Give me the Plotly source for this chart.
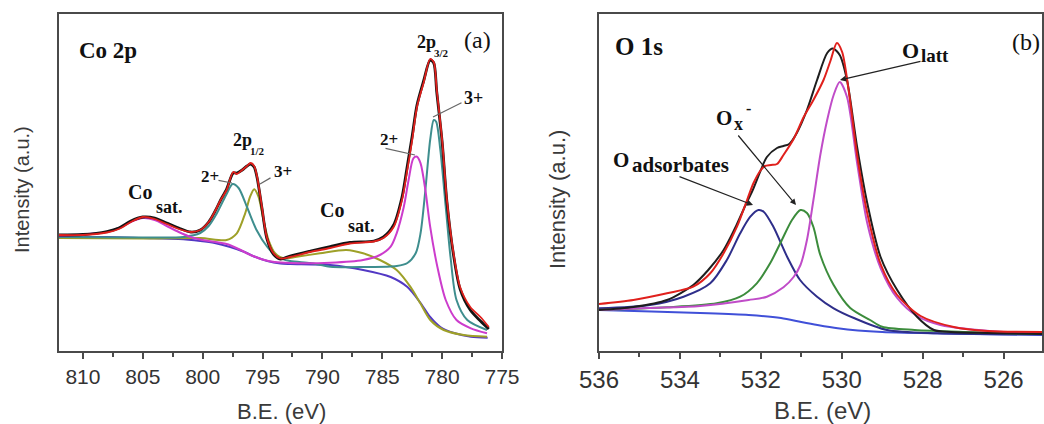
import plotly.graph_objects as go

# ---------------- Panel (a): Co 2p ----------------
a_exp_x = [812, 810, 808, 807, 806, 805, 804, 803, 802, 801, 800.2, 799.5, 799, 798.5, 798, 797.45, 797.15, 796.7, 796.3, 796.0, 795.7, 795.45, 795.05, 794.65, 794.1, 793.5, 792.7, 791.0, 789.35, 787.7, 785.7, 784.9, 784.05, 783.35, 782.95, 782.5, 782.1, 781.55, 781.0, 780.7, 780.45, 780.0, 779.6, 779.05, 778.5, 777.65, 776.8, 776.1]
a_exp_y = [116, 116.5, 119.5, 123, 130, 134, 133, 128, 123, 119, 121, 129, 139, 151, 162, 178, 178, 181, 185, 187, 184, 173, 143, 113, 97, 92, 95, 100, 104.5, 108.5, 110, 114, 126, 154, 182, 215, 246, 270, 291, 288, 259, 209, 149, 96, 62, 41, 30, 22]

a_fit_x = [812, 810, 808, 807, 806, 805, 804, 803, 802, 801, 800.2, 799.5, 799, 798.5, 798, 797.45, 797.15, 796.7, 796.3, 796.0, 795.7, 795.45, 795.05, 794.65, 794.1, 793.5, 792.7, 791.0, 789.35, 787.7, 785.7, 784.9, 784.05, 783.35, 782.95, 782.5, 782.1, 781.55, 781.0, 780.7, 780.45, 780.0, 779.6, 779.05, 778.5, 777.65, 776.8, 776.1]
a_fit_y = [116, 116, 118.5, 122, 129, 134, 132, 127, 122, 119, 121, 129, 139, 151, 161, 179, 177, 181, 185, 188, 185, 174, 144, 114, 98, 92.5, 94, 99, 103, 107.5, 109.5, 113, 124, 151, 178, 211, 244, 268, 292, 289, 261, 211, 151, 98, 64, 44, 34, 24]

a_bg_x = [812, 808, 805, 802, 800.2, 799, 797.7, 796.5, 795.8, 794.6, 793.5, 792.7, 789.35, 786.6, 784.3, 782.9, 781.8, 781.0, 780.15, 779.0, 777.6, 776.2]
a_bg_y = [114, 114, 113, 112, 110, 108, 104, 99, 95, 90, 87.5, 87, 86, 81, 74, 64, 48, 34, 24, 18, 14.3, 13.3]

a_teal_x = [812, 805, 801.6, 800.2, 799.5, 798.8, 798.0, 797.5, 797.0, 796.3, 795.5, 794.6, 793.8, 792.7, 791, 789.35, 786.5, 783.8, 782.9, 782.2, 781.8, 781.4, 781.0, 780.7, 780.5, 780.15, 779.7, 779.3, 778.8, 777.9, 776.25]
a_teal_y = [114, 113.5, 114, 118, 125, 138, 157, 167, 163, 144, 121, 104, 94, 90, 88, 84.3, 84, 85, 88, 98, 118, 161, 211, 231, 229.3, 201, 144, 94, 51, 31, 21]

a_mag_x = [812, 808, 807, 806, 805, 804, 803, 802, 801, 800, 798, 797, 796, 795, 794, 792.7, 789.35, 786.6, 785.2, 784.3, 783.8, 783.2, 782.8, 782.4, 782.1, 781.8, 781.4, 781.0, 780.4, 779.7, 778.8, 777.6, 776.25]
a_mag_y = [115, 119, 123, 129, 133, 131, 125, 119, 114, 111, 107, 102, 96, 91.5, 89, 88, 88.3, 91, 96, 104.3, 117.7, 144.3, 171, 192.7, 194.3, 187.7, 161, 124.3, 84.3, 51, 31, 22.7, 17.7]

a_olive_x = [812, 805, 800.2, 798, 797.15, 796.45, 796.04, 795.7, 795.34, 794.92, 794.5, 793.95, 793.25, 792.14, 790.2, 788, 786.6, 785.2, 783.8, 782.66, 781.82, 780.99, 779.87, 778.2, 776.25]
a_olive_y = [113, 112.5, 113, 111, 117.7, 137.7, 154.3, 161.7, 154.3, 131, 111, 97.7, 92.7, 94.3, 97.7, 101, 97.7, 91, 81, 64.3, 47.7, 31, 21, 16, 14.3]

a_ticks = [810, 805, 800, 795, 790, 785, 780, 775]

# ---------------- Panel (b): O 1s ----------------
b_exp_x = [536, 535.15, 534.32, 533.67, 533.3, 532.92, 532.6, 532.4, 532.2, 532.0, 531.85, 531.6, 531.44, 531.3, 531.11, 530.86, 530.61, 530.36, 530.22, 530.05, 529.87, 529.62, 529.37, 529.04, 528.63, 528.14, 527.72, 527.3, 526.4, 525.05]
b_exp_y = [41, 44, 51, 66, 81, 101, 126, 144, 161, 181, 194, 203, 205, 207, 218, 241, 271, 298, 302.5, 296, 271, 204, 148, 94, 61, 34.3, 21, 19, 18, 17]

b_fit_x = [536, 535.15, 534.32, 533.67, 533.25, 532.92, 532.59, 532.34, 532.18, 532.0, 531.9, 531.75, 531.6, 531.44, 531.19, 530.94, 530.7, 530.45, 530.28, 530.12, 529.99, 529.83, 529.62, 529.37, 529.04, 528.63, 528.05, 527.23, 526.4, 525.05]
b_fit_y = [47, 51, 57.7, 64.3, 77.7, 97.7, 124.3, 151, 168, 181, 185, 186, 187, 196, 212, 234, 251, 271, 290, 308, 299, 261, 196, 138, 87, 56, 35, 24, 20, 19]

b_ads_x = [536, 534.74, 533.91, 533.25, 532.84, 532.51, 532.26, 532.06, 531.93, 531.69, 531.35, 531.03, 530.61, 530.2, 529.7, 528.88, 527.64, 525.05]
b_ads_y = [42.7, 46, 54.3, 67.7, 91, 117.7, 134.3, 141, 139.3, 124.3, 94.3, 71, 54.3, 42.7, 33, 21, 17.7, 16.7]

b_ox_x = [536, 534.32, 533.09, 532.51, 532.1, 531.77, 531.48, 531.23, 531.02, 530.86, 530.7, 530.53, 530.2, 529.79, 529.3, 529.0, 528.2, 527.0, 525.05]
b_ox_y = [41, 43.7, 47.7, 54.3, 67.7, 87.7, 111, 131, 141, 138, 124, 96, 66, 43, 31, 24.3, 21, 19, 17]

b_latt_x = [536, 534.8, 533.5, 532.3, 531.85, 531.44, 531.19, 531.02, 530.86, 530.7, 530.53, 530.36, 530.2, 530.05, 529.87, 529.62, 529.37, 529.04, 528.63, 528.14, 527.56, 526.0, 525.05]
b_latt_y = [41, 43, 45, 51, 54.3, 63.7, 74, 86, 111, 151, 196, 231, 256, 269, 254, 188, 128, 83, 53, 35, 26, 19, 18]

b_bg_x = [536, 534.7, 533.5, 532.3, 531.5, 531.0, 530.6, 530.1, 529.6, 529.0, 527.5, 525.05]
b_bg_y = [41, 39.5, 38, 36, 33, 29, 26, 22.7, 20.5, 19, 17.5, 16]

b_ticks = [536, 534, 532, 530, 528, 526]

# ---------------- figure ----------------
W, H = 1044, 424
def PX(x):
    return x / W
def PY(y):
    return 1 - y / H

fig = go.Figure()

def add_line(x, y, color, width, xa, ya):
    fig.add_trace(go.Scatter(x=x, y=y, mode="lines", xaxis=xa, yaxis=ya,
                             line=dict(color=color, width=width, shape="spline", smoothing=0.8),
                             showlegend=False, hoverinfo="skip"))

# panel a
add_line(a_bg_x, a_bg_y, "#5238c4", 2, "x", "y")
add_line(a_olive_x, a_olive_y, "#9ea028", 2, "x", "y")
add_line(a_teal_x, a_teal_y, "#3e8e8e", 2, "x", "y")
add_line(a_mag_x, a_mag_y, "#cc3ccc", 2, "x", "y")
add_line(a_exp_x, a_exp_y, "#141414", 2.8, "x", "y")
add_line(a_fit_x, a_fit_y, "#e0201c", 1.8, "x", "y")

# panel b
add_line(b_bg_x, b_bg_y, "#4050d8", 2, "x2", "y2")
add_line(b_ads_x, b_ads_y, "#2e2e8a", 2, "x2", "y2")
add_line(b_ox_x, b_ox_y, "#3c8c3c", 2, "x2", "y2")
add_line(b_latt_x, b_latt_y, "#c04cc8", 2, "x2", "y2")
add_line(b_exp_x, b_exp_y, "#1e1e1e", 2, "x2", "y2")
add_line(b_fit_x, b_fit_y, "#e0201c", 2, "x2", "y2")

axis_common = dict(showline=True, linecolor="#4a4a4a", linewidth=2, mirror=True,
                   showgrid=False, zeroline=False, automargin=False)

fig.update_layout(
    template="none",
    width=W, height=H, margin=dict(l=0, r=0, t=0, b=0, pad=0, autoexpand=False),
    paper_bgcolor="white", plot_bgcolor="white", showlegend=False,
    xaxis=dict(domain=[PX(59), PX(502)], range=[812, 775], tickvals=a_ticks,
               ticks="outside", ticklen=6, tickwidth=1.5, tickcolor="#4a4a4a",
               minor=dict(dtick=2.5, ticks="outside", ticklen=3.5, tickwidth=1.5, tickcolor="#4a4a4a"),
               tickfont=dict(family="Liberation Sans, Arial, sans-serif", size=21, color="#333"),
               anchor="y", **axis_common),
    yaxis=dict(domain=[PY(351), PY(14)], range=[0, 337], showticklabels=False, ticks="",
               anchor="x", **axis_common),
    xaxis2=dict(domain=[PX(599), PX(1042)], range=[536, 525.05], tickvals=b_ticks,
                ticks="outside", ticklen=6, tickwidth=1.5, tickcolor="#4a4a4a",
                minor=dict(dtick=1, ticks="outside", ticklen=3.5, tickwidth=1.5, tickcolor="#4a4a4a"),
                tickfont=dict(family="Liberation Sans, Arial, sans-serif", size=24, color="#333"),
                anchor="y2", **axis_common),
    yaxis2=dict(domain=[PY(351), PY(14)], range=[0, 337], showticklabels=False, ticks="",
                anchor="x2", **axis_common),
)

SERIF = "Liberation Serif, Times New Roman, serif"
SANS = "Liberation Sans, Arial, sans-serif"

def text(x, y, s, size, bold=True, family=SERIF, color="#111", xanchor="center", angle=0):
    t = "<b>" + s + "</b>" if bold else s
    fig.add_annotation(x=PX(x), y=PY(y), xref="paper", yref="paper", text=t,
                       showarrow=False, xanchor=xanchor, yanchor="middle", textangle=angle,
                       font=dict(family=family, size=size, color=color))

def line(tx, ty, hx, hy, color, head):
    fig.add_annotation(x=PX(hx), y=PY(hy), xref="paper", yref="paper",
                       ax=tx - hx, ay=ty - hy, text="", showarrow=True,
                       arrowhead=2 if head else 0, arrowsize=1, arrowwidth=1.2,
                       arrowcolor=color)

# axis titles
text(22, 190, "Intensity (a.u.)", 20, bold=False, family=SANS, color="#3a3a3a", angle=-90)
text(281, 411, "B.E. (eV)", 22, bold=False, family=SANS, color="#3a3a3a")
text(557, 200, "Intensity (a.u.)", 22, bold=False, family=SANS, color="#3a3a3a", angle=-90)
text(822, 410, "B.E. (eV)", 24, bold=False, family=SANS, color="#3a3a3a")

# panel a labels
text(77, 50, "Co 2p", 23, xanchor="left")
text(477, 40, "(a)", 24, bold=False)
text(415, 42, "2p", 18, xanchor="left")
text(432, 53, "3/2", 11, xanchor="left")
text(473, 98, "3+", 18)
text(389, 139, "2+", 17)
text(231, 140, "2p", 18, xanchor="left")
text(248, 151, "1/2", 11, xanchor="left")
text(210, 176, "2+", 17)
text(283, 171, "3+", 17)
text(140, 192, "Co", 20)
text(154, 207, "sat.", 18, xanchor="left")
text(332, 210, "Co", 20)
text(346, 226, "sat.", 18, xanchor="left")
line(463, 102, 433, 117, "#666", False)
line(384, 148, 415, 155, "#666", False)
line(217, 180, 232, 183, "#666", False)
line(272, 177, 260, 184, "#666", False)

# panel b labels
text(613, 46, "O 1s", 25, xanchor="left")
text(1026, 42, "(b)", 24, bold=False)
text(910, 50, "O", 22)
text(919, 55, "latt", 19, xanchor="left")
text(724, 118, "O", 21)
text(732, 124, "x", 18, xanchor="left")
text(748, 108, "-", 16)
text(621, 160, "O", 21)
text(630, 165, "adsorbates", 21, xanchor="left")
line(922, 61, 840, 80, "#222", True)
line(737, 134, 796, 205, "#222", True)
line(678, 176, 753, 205, "#222", True)

fig.write_html("out.html")
